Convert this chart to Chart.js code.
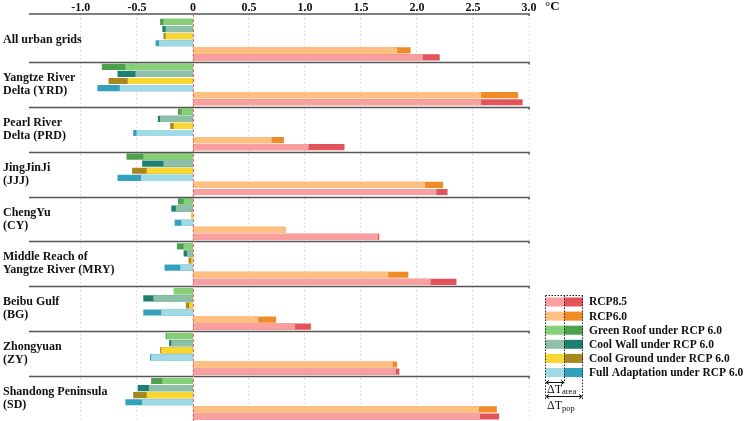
<!DOCTYPE html>
<html>
<head>
<meta charset="utf-8">
<script src="https://cdn.jsdelivr.net/npm/chart.js@4/dist/chart.umd.min.js"></script>
<style>
    html, body { margin: 0; padding: 0; background: #fff; }
</style>
</head>
<body>
<canvas id="chart" width="749" height="421"></canvas>
<script>
// regions (one entry per group, split into label lines)
const regions = [
    ["All urban grids"],
    ["Yangtze River", "Delta (YRD)"],
    ["Pearl River", "Delta (PRD)"],
    ["JingJinJi", "(JJJ)"],
    ["ChengYu", "(CY)"],
    ["Middle Reach of", "Yangtze River (MRY)"],
    ["Beibu Gulf", "(BG)"],
    ["Zhongyuan", "(ZY)"],
    ["Shandong Peninsula", "(SD)"]
];

// warming (°C), ΔT_area and ΔT_pop per region
const greenRoofArea  = [-0.26, -0.60, -0.10, -0.44, -0.08, -0.08, -0.17, -0.23, -0.27];
const greenRoofPop   = [-0.29, -0.81, -0.13, -0.59, -0.13, -0.14, -0.16, -0.24, -0.37];
const coolWallArea   = [-0.24, -0.51, -0.29, -0.26, -0.15, -0.05, -0.35, -0.19, -0.39];
const coolWallPop    = [-0.27, -0.67, -0.31, -0.45, -0.19, -0.08, -0.44, -0.21, -0.49];
const coolGroundArea = [-0.24, -0.58, -0.17, -0.41, -0.012, -0.012, -0.03, -0.28, -0.41];
const coolGroundPop  = [-0.26, -0.75, -0.20, -0.54, -0.010, -0.035, -0.06, -0.29, -0.53];
const fullAdaptArea  = [-0.30, -0.65, -0.50, -0.46, -0.10, -0.11, -0.28, -0.37, -0.45];
const fullAdaptPop   = [-0.33, -0.85, -0.53, -0.67, -0.16, -0.25, -0.44, -0.38, -0.60];
const rcp60Area      = [1.82, 2.57, 0.70, 2.07, 0.83, 1.74, 0.58, 1.78, 2.55];
const rcp60Pop       = [1.94, 2.90, 0.81, 2.23, 0.82, 1.92, 0.74, 1.82, 2.71];
const rcp85Area      = [2.05, 2.57, 1.03, 2.17, 1.65, 2.12, 0.91, 1.81, 2.56];
const rcp85Pop       = [2.20, 2.94, 1.35, 2.27, 1.66, 2.35, 1.05, 1.84, 2.73];

const xTicks = [-1.0, -0.5, 0, 0.5, 1.0, 1.5, 2.0, 2.5, 3.0];

// rows inside each group, top to bottom
const series = [
    { label: "Green Roof under RCP 6.0",      area: greenRoofArea,  pop: greenRoofPop,  light: "#87d078", dark: "#4ca04e" },
    { label: "Cool Wall under RCP 6.0",       area: coolWallArea,   pop: coolWallPop,   light: "#8ec0a8", dark: "#1e8070" },
    { label: "Cool Ground under RCP 6.0",     area: coolGroundArea, pop: coolGroundPop, light: "#fad630", dark: "#a8881e" },
    { label: "Full Adaptation under RCP 6.0", area: fullAdaptArea,  pop: fullAdaptPop,  light: "#a0dae6", dark: "#32a2bc" },
    { label: "RCP6.0",                        area: rcp60Area,      pop: rcp60Pop,      light: "#fec080", dark: "#f08c28" },
    { label: "RCP8.5",                        area: rcp85Area,      pop: rcp85Pop,      light: "#fa9f9f", dark: "#e2535a" }
];
const legendOrder = [5, 4, 0, 1, 2, 3];

// layout of the row axis (in row units)
const GROUP = 6.33;
const GROUP_TOP = 0.42;
const ROW_OFFSET = 1.12;
const rowPos = (k, r) => k * GROUP + ROW_OFFSET + r;

const SERIF = "'Liberation Serif', 'Times New Roman', serif";

const datasets = [];
series.forEach((s, r) => {
    datasets.push({
        label: s.label + " (area)",
        data: s.area.map((v, k) => ({ x: v, y: rowPos(k, r) })),
        backgroundColor: s.light,
        order: 0
    });
    datasets.push({
        label: s.label + " (pop)",
        data: s.pop.map((v, k) => ({ x: v, y: rowPos(k, r) })),
        backgroundColor: s.dark,
        order: 1
    });
});

const overlay = {
    id: "overlay",
    afterDatasetsDraw(chart) {
        const { ctx, chartArea: a, scales: { x, y } } = chart;
        ctx.save();

        // axis line + group separators
        ctx.strokeStyle = "#555";
        ctx.lineWidth = 1.5;
        for (let k = 0; k < regions.length; k++) {
            const py = k === 0 ? a.top : Math.round(y.getPixelForValue(GROUP_TOP + k * GROUP)) + 0.5;
            ctx.beginPath();
            ctx.moveTo(a.left, py);
            ctx.lineTo(a.right, py);
            ctx.lineTo(a.right, py + 2);
            ctx.stroke();
        }

        // zero line
        const x0 = Math.round(x.getPixelForValue(0)) + 0.5;
        ctx.strokeStyle = "#ee6b6b";
        ctx.lineWidth = 1;
        ctx.setLineDash([3, 2]);
        ctx.beginPath();
        ctx.moveTo(x0, a.top);
        ctx.lineTo(x0, a.bottom);
        ctx.stroke();
        ctx.setLineDash([]);

        // region labels
        ctx.fillStyle = "#111";
        ctx.font = "bold 12px " + SERIF;
        ctx.textAlign = "left";
        ctx.textBaseline = "middle";
        regions.forEach((lines, k) => {
            const cy = y.getPixelForValue(GROUP_TOP + (k + 0.5) * GROUP);
            lines.forEach((t, i) => {
                ctx.fillText(t, 3, cy + (i - (lines.length - 1) / 2) * 13);
            });
        });

        // unit
        ctx.font = "bold 13px " + SERIF;
        ctx.fillText("°C", 545, 7);

        // legend
        const lx = 545, lm = 564, lr = 583;
        legendOrder.forEach((si, i) => {
            const s = series[si];
            const cy = 302 + i * 14.1;
            ctx.fillStyle = s.light;
            ctx.fillRect(lx, cy - 4.5, lm - lx, 9);
            ctx.fillStyle = s.dark;
            ctx.fillRect(lm, cy - 4.5, lr - lm, 9);
            ctx.fillStyle = "#111";
            ctx.font = "bold 11.5px " + SERIF;
            ctx.fillText(s.label, 589, cy + 0.5);
        });

        ctx.strokeStyle = "#222";
        ctx.lineWidth = 1;
        ctx.setLineDash([1.5, 1.5]);
        ctx.beginPath();
        ctx.moveTo(lx + 0.5, 295.5); ctx.lineTo(lr - 0.5, 295.5);
        ctx.moveTo(lx + 0.5, 295.5); ctx.lineTo(lx + 0.5, 400);
        ctx.moveTo(lr - 0.5, 295.5); ctx.lineTo(lr - 0.5, 400);
        ctx.moveTo(lm + 0.5, 295.5); ctx.lineTo(lm + 0.5, 383);
        ctx.stroke();
        ctx.setLineDash([]);

        const arrow = (x1, x2, yy) => {
            ctx.beginPath();
            ctx.moveTo(x1, yy); ctx.lineTo(x2, yy);
            ctx.moveTo(x1 + 3, yy - 2); ctx.lineTo(x1, yy); ctx.lineTo(x1 + 3, yy + 2);
            ctx.moveTo(x2 - 3, yy - 2); ctx.lineTo(x2, yy); ctx.lineTo(x2 - 3, yy + 2);
            ctx.stroke();
        };
        ctx.strokeStyle = "#111";
        arrow(lx + 1, lm, 382.5);
        arrow(lx + 1, lr - 1, 396.5);

        ctx.fillStyle = "#111";
        ctx.textBaseline = "alphabetic";
        ctx.font = "12px " + SERIF;
        ctx.fillText("ΔT", 547, 392.5);
        ctx.font = "8.5px " + SERIF;
        ctx.fillText("area", 562, 394);
        ctx.font = "12px " + SERIF;
        ctx.fillText("ΔT", 547, 409);
        ctx.font = "8.5px " + SERIF;
        ctx.fillText("pop", 562, 410.5);

        ctx.restore();
    }
};

new Chart(document.getElementById("chart"), {
    type: "bar",
    data: { datasets: datasets },
    options: {
        indexAxis: "y",
        responsive: false,
        animation: false,
        devicePixelRatio: 1,
        layout: { padding: { left: 29, right: 220, top: 0, bottom: 0 } },
        datasets: {
            bar: { grouped: false, barThickness: 5.5, borderWidth: 0 }
        },
        scales: {
            x: {
                type: "linear",
                position: "top",
                min: -1.463,
                max: 3.0,
                afterFit: (scale) => { scale.height = 14; },
                afterBuildTicks: (scale) => { scale.ticks = xTicks.map(v => ({ value: v })); },
                ticks: {
                    padding: -1,
                    color: "#111",
                    font: { family: SERIF, size: 12, weight: "bold" },
                    callback: (v) => (v === 0 ? "0" : v.toFixed(1))
                },
                grid: { color: "#e3e3e3", lineWidth: 1, drawTicks: false },
                border: { display: false, dash: [2, 2] }
            },
            y: {
                type: "linear",
                reverse: true,
                offset: false,
                min: 0,
                max: 57.4,
                display: false
            }
        },
        plugins: {
            legend: { display: false },
            tooltip: { enabled: false }
        }
    },
    plugins: [overlay]
});
</script>
</body>
</html>
